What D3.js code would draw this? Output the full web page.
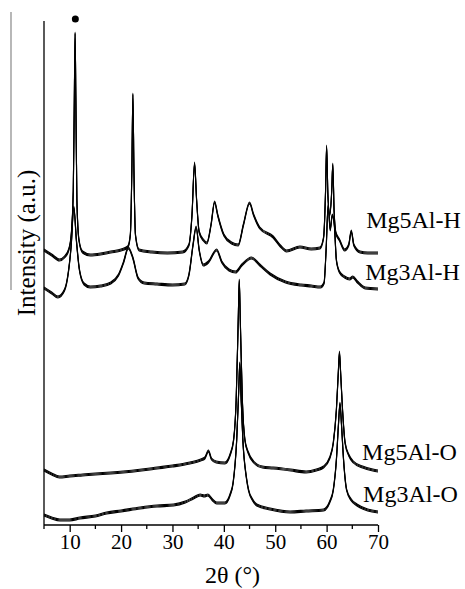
<!DOCTYPE html>
<html>
<head>
<meta charset="utf-8">
<script src="https://cdn.jsdelivr.net/npm/d3@7"></script>
<style>
  body { margin: 0; background: #fff; }
  svg { display: block; }
  .trace { fill: none; stroke: #000; stroke-width: 1.1; }
  text { font-family: "Liberation Serif", "Times New Roman", serif; fill: #000; }
</style>
</head>
<body>
<svg id="svg" width="465" height="589"></svg>
<script>
// 2θ range and ticks
var xDomain = [5, 70];
var majorTicks = [10, 20, 30, 40, 50, 60, 70];
var minorTicks = [5, 15, 25, 35, 45, 55, 65];

// patterns: [2θ, intensity (a.u., stacked)]
var mg5AlH = [[5,275],[6.5,270],[8,265],[9,268],[9.8,275],[10.3,290],[10.7,335],[10.9,425],[11.05,492],[11.2,425],[11.4,325],[11.8,285],[12.5,273],[14,270],[16,271],[18,273],[20,275],[21.3,278],[21.8,290],[22.1,355],[22.3,431],[22.5,355],[22.8,290],[23.5,275],[26,273],[29,272],[32,273],[33.2,280],[33.8,310],[34.3,362],[34.7,325],[35.2,293],[36,285],[36.7,282],[37.5,300],[38.2,323],[38.8,310],[40,290],[41.5,282],[42.8,280],[43.8,300],[45,322],[45.8,310],[47,297],[49.6,288],[51,279],[52.2,274],[54.8,278],[57,276],[58.7,277],[59.4,287],[59.8,335],[60,379],[60.25,330],[60.6,310],[61,335],[61.2,361],[61.45,315],[61.8,292],[62.5,285],[63.5,275],[64.3,280],[64.8,294],[65.3,280],[66.5,273],[68,272],[70,272]];
var mg3AlH = [[5,237],[6.5,232],[7.7,228],[9,235],[9.8,255],[10.3,280],[10.8,318],[11.3,285],[11.9,255],[12.8,241],[14,238],[16,239],[18,242],[19.5,250],[20.5,263],[21.4,277],[22.3,267],[23.3,247],[24.5,242],[27,241],[30,240],[32.4,241],[33.2,250],[34,280],[34.6,298],[35.2,275],[36,260],[37,263],[38.6,275],[39.6,263],[41,255],[42.3,253],[43.5,260],[45.4,267],[47,260],[49,251],[52,243],[55,240],[57,239],[58.8,238],[59.5,242],[59.9,275],[60.3,320],[60.7,295],[61.1,310],[61.5,300],[61.9,265],[62.5,253],[63.5,248],[64.5,246],[65.1,248],[66,243],[67.5,237],[70,236]];
var mg5AlO = [[5,55],[6.5,51],[8,48],[10,49],[12.5,50],[15,51],[18,52],[20.4,53],[24,55],[27,57],[30,59],[33.4,62],[35.5,65],[36.3,67],[37,74],[37.6,66],[38.5,63],[40.2,62],[41.2,70],[41.9,85],[42.4,125],[42.8,205],[43,245],[43.2,205],[43.6,125],[44.1,85],[44.7,73],[45.8,63],[47.5,58],[49.6,57],[53,55],[56,53],[58,55],[59.4,58],[60.6,67],[61.3,82],[61.9,115],[62.3,155],[62.5,173],[62.7,155],[63.1,115],[63.6,82],[64.3,70],[65.2,63],[67,58],[69,55],[70,54]];
var mg3AlO = [[5,10],[6.5,7],[8.1,5],[10,5],[12,7],[15,9],[17.2,12],[20,14],[23.7,17],[27,19],[30.2,20],[32.5,23],[34.1,27],[35.4,30],[36.2,29],[36.9,30],[37.8,25],[38.6,22],[40.2,22],[41.2,30],[41.8,42],[42.5,85],[42.9,135],[43.1,162],[43.3,135],[43.7,85],[44.4,47],[44.8,35],[45.6,25],[46.4,20],[49,16],[52.9,13],[56,14],[59.4,15],[60.6,23],[61.3,35],[61.9,65],[62.3,100],[62.6,122],[62.9,100],[63.3,65],[63.9,35],[64.8,25],[65.9,20],[68,15],[70,13]];

var seriesNames = ["Mg5Al-H", "Mg3Al-H", "Mg5Al-O", "Mg3Al-O"];
var seriesData = [mg5AlH, mg3AlH, mg5AlO, mg3AlO];
// label anchor: [2θ, intensity]
var labelPos = [[67.7, 297], [67.5, 245], [66.9, 65], [67.1, 23]];
var markerPos = [11.1, 506];

var svg = d3.select("#svg");

var x = d3.scaleLinear().domain(xDomain).range([44, 378]);
var y = d3.scaleLinear().domain([0, 505]).range([525, 20]);

var line = d3.line()
    .x(function (d) { return x(d[0]); })
    .y(function (d) { return y(d[1]); })
    .curve(d3.curveMonotoneX);

// traces, drawn three times shifted by a pixel to get the noisy thick baseline look
var traces = svg.append("g");
seriesData.forEach(function (s) {
    [-1, 0, 1].forEach(function (dy) {
        traces.append("path")
            .attr("class", "trace")
            .attr("transform", "translate(0," + dy + ")")
            .attr("d", line(s));
    });
});

// axes
var xAxis = svg.append("g").attr("transform", "translate(0,525)");
xAxis.call(d3.axisBottom(x).tickValues(majorTicks).tickSize(7).tickPadding(2).tickFormat(d3.format("d")));
xAxis.select(".domain").attr("d", "M" + x(5) + ",0H" + x(70)).attr("stroke-width", 1.3);
xAxis.selectAll(".tick line").attr("stroke-width", 1.3);
xAxis.selectAll(".tick text").attr("font-size", "21px").style("font-family", "'Liberation Serif', serif");

svg.append("g").attr("transform", "translate(0,525)")
    .selectAll("line").data(minorTicks).enter().append("line")
    .attr("x1", function (d) { return x(d); })
    .attr("x2", function (d) { return x(d); })
    .attr("y1", 0).attr("y2", 4)
    .attr("stroke", "#000").attr("stroke-width", 1.3);

svg.append("line")
    .attr("x1", x(5)).attr("x2", x(5))
    .attr("y1", 21).attr("y2", 525)
    .attr("stroke", "#000").attr("stroke-width", 1.3);

// axis titles
svg.append("text")
    .attr("x", 205).attr("y", 583)
    .attr("font-size", "24px")
    .text("2θ (°)");

svg.append("text")
    .attr("transform", "translate(35,243) rotate(-90)")
    .attr("text-anchor", "middle")
    .attr("font-size", "25px")
    .text("Intensity (a.u.)");

svg.append("line")
    .attr("x1", 11).attr("x2", 11)
    .attr("y1", 12).attr("y2", 290)
    .attr("stroke", "#888").attr("stroke-width", 1.2);

// series labels
svg.selectAll(".lbl").data(seriesNames).enter().append("text")
    .attr("class", "lbl")
    .attr("x", function (d, i) { return x(labelPos[i][0]); })
    .attr("y", function (d, i) { return y(labelPos[i][1]); })
    .attr("font-size", "24px")
    .text(function (d) { return d; });

// marker above the (003) reflection
svg.append("circle")
    .attr("cx", x(markerPos[0]))
    .attr("cy", y(markerPos[1]))
    .attr("r", 3.5)
    .attr("fill", "#000");
</script>
</body>
</html>
